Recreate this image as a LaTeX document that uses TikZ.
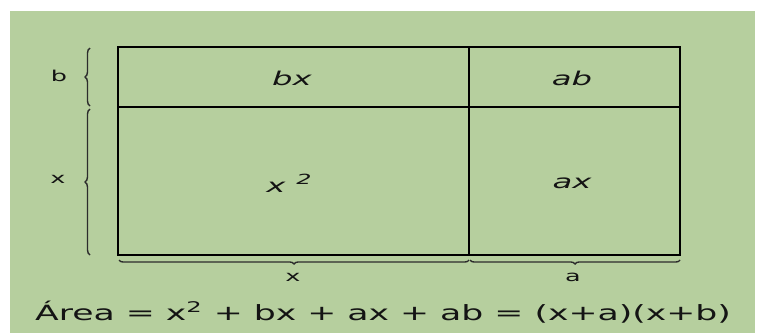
\documentclass[tikz,border=0pt]{standalone}
\usepackage{fontspec}
\setmainfont{DejaVu Sans}
\usetikzlibrary{decorations.pathreplacing}
\definecolor{bg}{RGB}{182,207,158}
\definecolor{ink}{RGB}{20,20,20}
\newcommand{\wide}[2]{\scalebox{#1}[1]{#2}}
\begin{document}
\begin{tikzpicture}[x=1pt,y=-1pt,
  brc/.style={draw=ink!90, line width=1.4pt, decorate, decoration={brace, amplitude=5pt}},
  lowbrc/.style={brc, decoration={brace, amplitude=4pt}},
  cell/.style={font=\fontsize{19}{19}\selectfont\itshape, text=ink},
  side/.style={font=\fontsize{15}{15}\selectfont, text=ink},
  frame/.style={draw=black, line width=2pt}]
\useasboundingbox (0,0) rectangle (768,333);
\fill[white] (0,0) rectangle (768,333);
\fill[bg] (10,11) rectangle (755,333);
% corners
\coordinate (TL) at (118,47);
\coordinate (TM) at (469,47);
\coordinate (TR) at (680,47);
\coordinate (ML) at (118,107);
\coordinate (MR) at (680,107);
\coordinate (BL) at (118,255);
\coordinate (BM) at (469,255);
\coordinate (BR) at (680,255);
\draw[frame] (TL) rectangle (BR);
\draw[line width=1.6pt] (ML) -- (MR);
\draw[line width=2.6pt] (TM) -- (BM);
% cell labels
\node[cell] (bx) at (292,78) {\wide{1.7}{bx}};
\node[cell] (ab) at (572,78) {\wide{1.7}{ab}};
\node[cell] (x2) at (289,183) {\wide{1.7}{x\,\,\raisebox{0.75ex}{\fontsize{14}{14}\selectfont 2}}};
\node[cell] (ax) at (572,183) {\wide{1.7}{ax}};
% braces
\coordinate (lb1) at (90,106);
\coordinate (lb2) at (90,48);
\coordinate (lx1) at (90,255);
\coordinate (lx2) at (90,109);
\coordinate (bx1) at (469,260);
\coordinate (bx2) at (119,260);
\coordinate (ba1) at (680,260);
\coordinate (ba2) at (470,260);
\draw[brc] (lb1) -- (lb2);
\draw[brc] (lx1) -- (lx2);
\draw[lowbrc] (bx1) -- (bx2);
\draw[lowbrc] (ba1) -- (ba2);
\node[side] (sb) at (59,76) {\wide{1.7}{b}};
\node[side] (sx) at (58,179) {\wide{1.7}{x}};
\node[side] (dx) at (293,277) {\wide{1.7}{x}};
\node[side] (da) at (573,277) {\wide{1.7}{a}};
\node[font=\fontsize{21}{21}\selectfont, text=ink, anchor=base] (area) at (383,320) {\wide{1.65}{Área = x\textsuperscript{2} + bx + ax + ab = (x+a)(x+b)}};
\end{tikzpicture}
\end{document}
